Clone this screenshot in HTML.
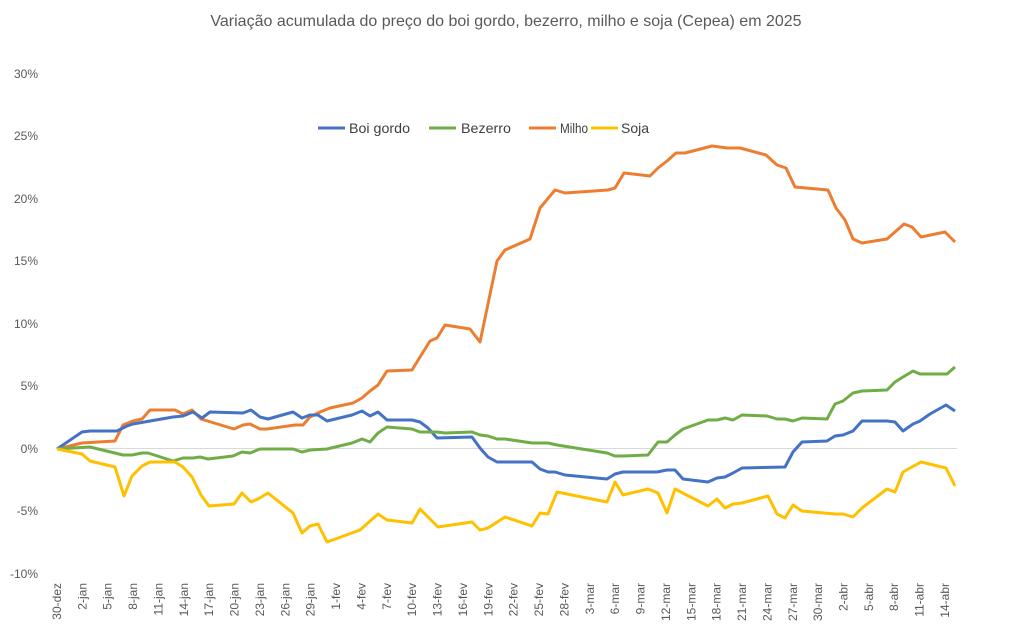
<!DOCTYPE html>
<html><head><meta charset="utf-8"><style>
html,body{margin:0;padding:0;background:#fff;}
svg{display:block;font-family:"Liberation Sans",sans-serif;}
</style></head><body>
<svg width="1011" height="629" viewBox="0 0 1011 629">
<text x="506" y="26" text-anchor="middle" font-size="16" fill="#595959">Variação acumulada do preço do boi gordo, bezerro, milho e soja (Cepea) em 2025</text>
<g font-size="12" fill="#595959" text-anchor="end">
<text x="38" y="78">30%</text><text x="38" y="140">25%</text><text x="38" y="203">20%</text>
<text x="38" y="265">15%</text><text x="38" y="328">10%</text><text x="38" y="390">5%</text>
<text x="38" y="453">0%</text><text x="38" y="515">-5%</text><text x="38" y="578">-10%</text>
</g>
<line x1="57" y1="448.5" x2="957" y2="448.5" stroke="#d9d9d9" stroke-width="1"/>
<g font-size="12" fill="#595959" text-anchor="end">
<text transform="translate(61,583) rotate(-90)">30-dez</text>
<text transform="translate(86.4,583) rotate(-90)">2-jan</text>
<text transform="translate(111.7,583) rotate(-90)">5-jan</text>
<text transform="translate(137.1,583) rotate(-90)">8-jan</text>
<text transform="translate(162.5,583) rotate(-90)">11-jan</text>
<text transform="translate(187.9,583) rotate(-90)">14-jan</text>
<text transform="translate(213.2,583) rotate(-90)">17-jan</text>
<text transform="translate(238.6,583) rotate(-90)">20-jan</text>
<text transform="translate(264,583) rotate(-90)">23-jan</text>
<text transform="translate(289.3,583) rotate(-90)">26-jan</text>
<text transform="translate(314.7,583) rotate(-90)">29-jan</text>
<text transform="translate(340.1,583) rotate(-90)">1-fev</text>
<text transform="translate(365.5,583) rotate(-90)">4-fev</text>
<text transform="translate(390.8,583) rotate(-90)">7-fev</text>
<text transform="translate(416.2,583) rotate(-90)">10-fev</text>
<text transform="translate(441.6,583) rotate(-90)">13-fev</text>
<text transform="translate(466.9,583) rotate(-90)">16-fev</text>
<text transform="translate(492.3,583) rotate(-90)">19-fev</text>
<text transform="translate(517.7,583) rotate(-90)">22-fev</text>
<text transform="translate(543,583) rotate(-90)">25-fev</text>
<text transform="translate(568.4,583) rotate(-90)">28-fev</text>
<text transform="translate(593.8,583) rotate(-90)">3-mar</text>
<text transform="translate(619.2,583) rotate(-90)">6-mar</text>
<text transform="translate(644.5,583) rotate(-90)">9-mar</text>
<text transform="translate(669.9,583) rotate(-90)">12-mar</text>
<text transform="translate(695.3,583) rotate(-90)">15-mar</text>
<text transform="translate(720.6,583) rotate(-90)">18-mar</text>
<text transform="translate(746,583) rotate(-90)">21-mar</text>
<text transform="translate(771.4,583) rotate(-90)">24-mar</text>
<text transform="translate(796.8,583) rotate(-90)">27-mar</text>
<text transform="translate(822.1,583) rotate(-90)">30-mar</text>
<text transform="translate(847.5,583) rotate(-90)">2-abr</text>
<text transform="translate(872.9,583) rotate(-90)">5-abr</text>
<text transform="translate(898.2,583) rotate(-90)">8-abr</text>
<text transform="translate(923.6,583) rotate(-90)">11-abr</text>
<text transform="translate(949,583) rotate(-90)">14-abr</text>
</g>
<g fill="none" stroke-width="3" stroke-linejoin="round">
<polyline stroke="#ed7d31" points="57,449 82,443 115,441 123,425 133,421 142,419 150,410 175,410 183,414 192,410 201,419 234,429 243,425 250,424 260,429 267,429 295,425 303,425 310,417 320,412 330,408 353,403 362,398 370,391 378,385 387,371 412,370 420,357 430,341 437,338 445,325 470,329 480,342 497,261 505,250 530,239 540,208 555,190 565,193 608,190 615,188 624,173 650,176 658,168 667,161 676,153 685,153 712,146 727,148 740,148 766,155 777,165 786,168 795,187 828,190 836,208 845,220 853,239 862,243 887,239 904,224 912,227 921,237 945,232 955,242"/>
<polyline stroke="#4472c4" points="57,449 82,432 90,431 117,431 127,426 133,424 150,421 173,417 183,416 193,412 202,418 210,412 243,413 251,410 260,417 268,419 293,412 302,418 310,415 318,415 327,421 352,415 362,411 370,416 378,412 387,420 412,420 420,422 428,428 437,438 472,437 480,448 488,457 497,462 532,462 540,469 548,472 555,472 565,475 607,479 615,474 623,472 657,472 667,470 675,470 683,479 708,482 717,478 725,477 733,473 742,468 785,467 793,452 802,442 827,441 835,436 843,435 853,431 862,421 887,421 895,422 903,431 913,424 920,421 930,414 946,405 955,411"/>
<polyline stroke="#70ad47" points="57,449 90,447 123,455 132,455 142,453 148,453 173,461 183,458 193,458 200,457 208,459 233,456 242,452 250,453 260,449 293,449 302,452 310,450 327,449 352,443 362,439 370,442 378,433 387,427 412,429 420,432 437,432 445,433 472,432 480,435 488,436 497,439 505,439 532,443 548,443 557,445 607,453 615,456 623,456 648,455 658,442 667,442 675,435 683,429 708,420 717,420 725,418 733,420 742,415 767,416 777,419 785,419 793,421 802,418 827,419 835,404 843,401 853,393 862,391 887,390 895,382 903,377 913,371 920,374 947,374 955,367"/>
<polyline stroke="#ffc000" points="57,449 82,454 90,461 115,467 124,496 132,476 142,466 150,462 175,462 183,467 192,477 201,495 209,506 234,504 242,493 251,502 258,499 268,493 293,513 302,533 310,526 318,524 327,542 360,530 378,514 387,520 412,523 420,509 438,527 472,522 480,530 488,528 505,517 532,526 540,513 548,514 557,492 607,502 615,482 623,495 648,489 658,493 667,513 675,489 708,506 717,499 725,508 733,504 742,503 768,496 777,514 785,518 793,505 802,511 835,514 843,514 853,517 862,508 887,489 895,492 903,472 921,462 946,468 955,486"/>
</g>
<g font-size="14" fill="#404040">
<line x1="318" y1="128" x2="345" y2="128" stroke="#4472c4" stroke-width="3"/><text x="349" y="133" textLength="61" lengthAdjust="spacingAndGlyphs">Boi gordo</text>
<line x1="429" y1="128" x2="456" y2="128" stroke="#70ad47" stroke-width="3"/><text x="461" y="133" textLength="50" lengthAdjust="spacingAndGlyphs">Bezerro</text>
<line x1="529" y1="128" x2="556" y2="128" stroke="#ed7d31" stroke-width="3"/><text x="560" y="133" textLength="28" lengthAdjust="spacingAndGlyphs">Milho</text>
<line x1="591" y1="128" x2="618" y2="128" stroke="#ffc000" stroke-width="3"/><text x="621" y="133" textLength="28" lengthAdjust="spacingAndGlyphs">Soja</text>
</g>
</svg>
</body></html>
